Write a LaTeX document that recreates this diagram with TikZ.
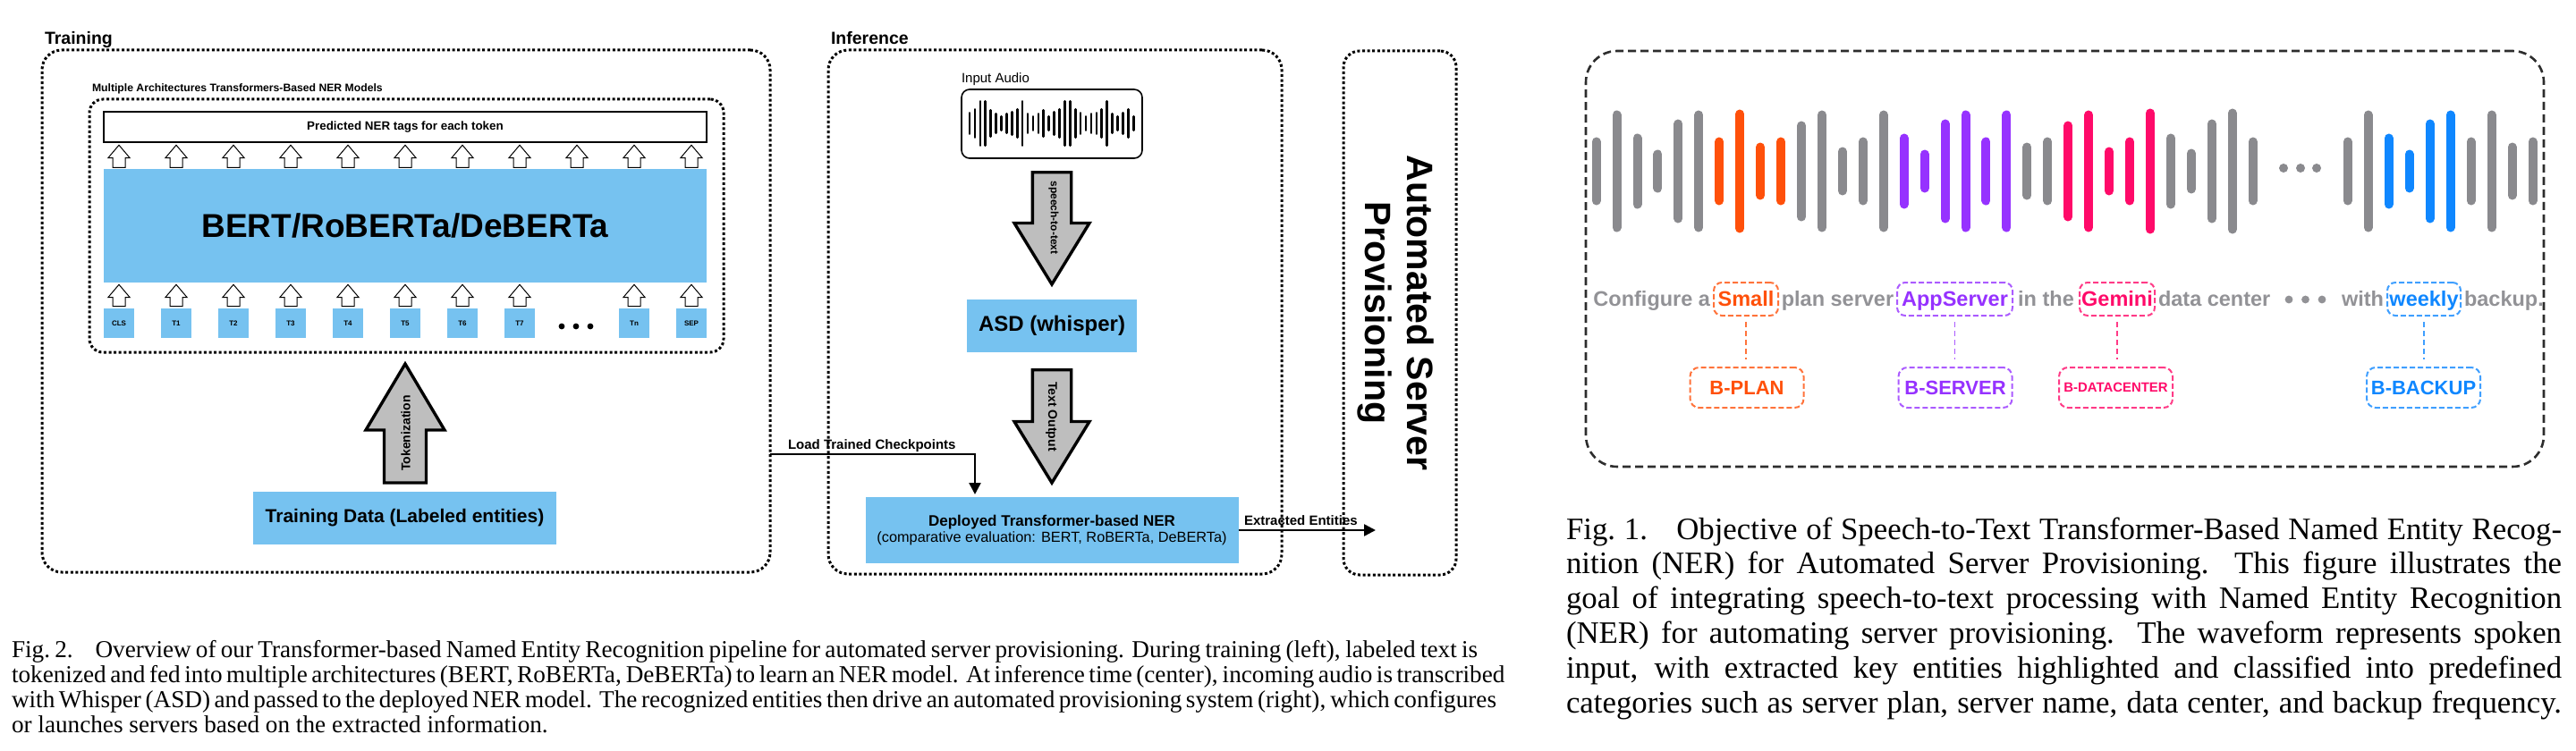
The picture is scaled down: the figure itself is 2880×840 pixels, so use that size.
\documentclass[tikz,border=0pt]{standalone}
\usepackage{fontspec}
\setmainfont{Liberation Sans}
\newfontfamily\capfont{Liberation Serif}
\usetikzlibrary{arrows.meta,calc}
\definecolor{nerblue}{RGB}{118,194,240}
\definecolor{arrgray}{RGB}{190,190,190}
\definecolor{wgray}{RGB}{138,138,142}
\definecolor{tgray}{RGB}{146,146,150}
\definecolor{eorange}{RGB}{255,80,10}
\definecolor{epurple}{RGB}{150,50,255}
\definecolor{epink}{RGB}{255,10,105}
\definecolor{eblue}{RGB}{15,135,255}
\definecolor{pframe}{RGB}{45,45,45}
\newcommand\fsz[1]{\fontsize{#1}{#1}\selectfont}
\newcommand\hollowup[3]{%
  \draw[hollow] (#1,#2) -- (#1+12.2,#2+14.4) -- (#1+7,#2+14.4) -- (#1+7,#3) -- (#1-7,#3) -- (#1-7,#2+14.4) -- (#1-12.2,#2+14.4) -- cycle;}
\begin{document}
\begin{tikzpicture}[x=1pt,y=-1pt,
  dotbox/.style={draw=black, line width=3pt, dash pattern=on 3pt off 2.6pt, rounded corners=#1, inner sep=0pt, outer sep=0pt},
  dotbox/.default=20pt,
  bluebox/.style={fill=nerblue, inner sep=0pt, outer sep=0pt},
  tok/.style={bluebox, minimum width=34pt, minimum height=33pt, font=\fsz{8}\bfseries},
  hollow/.style={draw=black, fill=white, line width=1pt, line join=miter},
  bigarrow/.style={draw=black, fill=arrgray, line width=3.4pt, line join=miter},
  conn/.style={draw=black, line width=2.5pt, -{Triangle[length=13pt,width=13pt]}},
  plain/.style={inner sep=0pt, outer sep=0pt},
  ttl/.style={plain, font=\fsz{19.5}\bfseries},
  ent/.style={draw=#1!80!white, text=#1, dash pattern=on 6pt off 3pt, line width=2pt, rounded corners=9pt, minimum height=37pt, inner sep=0pt, text height=20pt, text depth=5pt, font=\fsz{23.5}\bfseries},
  lab/.style={draw=#1!80!white, text=#1, dash pattern=on 6pt off 3pt, line width=2pt, rounded corners=10pt, minimum width=127pt, minimum height=45pt, inner sep=0pt, font=\fsz{22}\bfseries},
  conndash/.style={draw=#1!80!white, line width=1.8pt, dash pattern=on 6pt off 4pt, shorten <=6pt, shorten >=8pt},
  sent/.style={plain, text=tgray, font=\fsz{23.5}\bfseries},
  wbar/.style={line width=10pt, line cap=round},
  abar/.style={draw=black, line width=2.6pt, line cap=round}
]
\useasboundingbox (0,0) rectangle (2880,840);
\fill[white] (0,0) rectangle (2880,840);

% ================= TRAINING =================
\node[dotbox=22pt, minimum width=814pt, minimum height=584pt] (train) at (454,348) {};
\node[ttl, anchor=base west] (trainlbl) at (50,49.5) {Training};
\node[dotbox=15pt, minimum width=709pt, minimum height=283pt] (multi) at (454.5,252.5) {};
\node[plain, anchor=base west, font=\fsz{12.2}\bfseries] (multilbl) at (103,102.7) {Multiple Architectures Transformers-Based NER Models};
\node[draw=black, line width=1.3pt, inner sep=0pt, minimum width=674pt, minimum height=34pt, font=\fsz{13.4}\bfseries] (pred) at (453,142) {Predicted NER tags for each token};
\node[bluebox, minimum width=674pt, minimum height=127pt, font=\fsz{37}\bfseries] (bert) at (453,252.5) {BERT/RoBERTa/DeBERTa};
\foreach \k/\t in {0/CLS,1/T1,2/T2,3/T3,4/T4,5/T5,6/T6,7/T7,9/Tn,10/SEP}
  {\node[tok] (tok\k) at (133+64*\k,361.5) {\t};}
\foreach \d in {628,644,660} {\fill[black] (\d,365) circle (3.4pt);}
\foreach \k in {0,...,10} {\hollowup{133+64*\k}{162.3}{187.3}}
\foreach \k in {0,...,7,9,10} {\hollowup{133+64*\k}{318.3}{342.7}}
\node[bluebox, minimum width=339pt, minimum height=59pt, font=\fsz{21}\bfseries] (tdata) at (452.5,579.5) {Training Data (Labeled entities)};
\draw[bigarrow] (453,407) -- (497,481) -- (476.5,481) -- (476.5,540) -- (429.5,540) -- (429.5,481) -- (409,481) -- cycle;
\node[plain, rotate=90, font=\fsz{14}\bfseries] (toklbl) at (453.5,484.5) {Tokenization};

% ================= INFERENCE =================
\node[dotbox=22pt, minimum width=507pt, minimum height=586pt] (inf) at (1179.5,349) {};
\node[ttl, anchor=base west] (inflbl) at (929,49.3) {Inference};
\node[plain, anchor=base west, font=\fsz{15}] (audiolbl) at (1075,92.7) {Input Audio};
\node[draw=black, line width=1.6pt, rounded corners=9pt, minimum width=202pt, minimum height=77pt, inner sep=0pt] (audio) at (1176,138.5) {};
\foreach \h [count=\i from 0] in {13,17,26,26,16,12,9,12,14,17,26,12,9,12,16,9,14,17,26,26,17,13,9,12,13,17,26,12,9,13,17,9}
  {\draw[abar] (1084+5.91*\i,138-\h+1.3) -- (1084+5.91*\i,138+\h-1.3);}
\draw[bigarrow] (1154.3,192.7) -- (1197.7,192.7) -- (1197.7,249.5) -- (1218,249.5) -- (1176,318) -- (1134,249.5) -- (1154.3,249.5) -- cycle;
\node[plain, rotate=-90, font=\fsz{12}\bfseries] (s2t) at (1178,243.5) {speech-to-text};
\node[bluebox, minimum width=190pt, minimum height=59pt, font=\fsz{24}\bfseries] (asd) at (1176,364.5) {ASD (whisper)};
\draw[bigarrow] (1154.3,413.7) -- (1197.7,413.7) -- (1197.7,471.5) -- (1218,471.5) -- (1176,540) -- (1134,471.5) -- (1154.3,471.5) -- cycle;
\node[plain, rotate=-90, font=\fsz{14}\bfseries] (txtout) at (1175.5,466) {Text Output};
\node[bluebox, minimum width=417pt, minimum height=74pt, align=center, font=\fontsize{16.3}{18}\selectfont] (dep) at (1176,593) {{\fontsize{17}{18}\selectfont\bfseries Deployed Transformer-based NER}\\(comparative evaluation: BERT, RoBERTa, DeBERTa)};

% ================= PROVISIONING =================
\node[dotbox=18pt, minimum width=126pt, minimum height=586pt] (asp) at (1565,350) {};
\node[plain, rotate=-90, align=center, font=\fontsize{41}{47}\selectfont\bfseries] (asptxt) at (1560,350) {Automated Server\\Provisioning};

% connectors
\draw[conn] ($(train.east)+(0,160)$) -| ($(dep.north west)+(122.5,-3)$);
\node[plain, anchor=base west, font=\fsz{15}\bfseries] (loadlbl) at (881,502.7) {Load Trained Checkpoints};
\coordinate (entend) at ($(asp.west |- dep.east)+(36,0)$);
\draw[conn] (dep.east) -- (entend);
\node[plain, anchor=base west, font=\fsz{15}\bfseries] (extlbl) at (1391,587.5) {Extracted Entities};

% ================= RIGHT PANEL =================
\node[draw=pframe, line width=2.6pt, dash pattern=on 9pt off 5pt, rounded corners=35pt, minimum width=1071pt, minimum height=465pt, inner sep=0pt, outer sep=0pt] (panel) at (2308.5,289.5) {};
\foreach \h/\c [count=\i from 0] in {38/wgray,68/wgray,42/wgray,24/wgray,58/wgray,68/wgray,38/eorange,69/eorange,32/eorange,38/eorange,56/wgray,68/wgray,27/wgray,38/wgray,68/wgray,42/epurple,24/epurple,58/epurple,68/epurple,38/epurple,68/epurple,32/wgray,38/wgray,56/epink,68/epink,27/epink,38/epink,70/epink,42/wgray,25/wgray,58/wgray,70/wgray,38/wgray}
  {\draw[wbar, draw=\c] (1784.6+22.94*\i,191.5-\h+5) -- (1784.6+22.94*\i,191.5+\h-5);}
\foreach \d in {2553,2572,2590} {\fill[wgray] (\d,188) circle (5pt);}
\foreach \h/\c [count=\i from 0] in {38/wgray,68/wgray,42/eblue,24/eblue,58/eblue,68/eblue,38/wgray,68/wgray,32/wgray,38/wgray}
  {\draw[wbar, draw=\c] (2624.6+23*\i,191.5-\h+5) -- (2624.6+23*\i,191.5+\h-5);}

% sentence
\node[ent=eorange, minimum width=72pt] (esmall) at (1952,334.5) {Small};
\node[ent=epurple, minimum width=129pt] (eapp) at (2185.5,334.5) {AppServer};
\node[ent=epink, minimum width=84pt] (egem) at (2367,334.5) {Gemini};
\node[ent=eblue, minimum width=82pt] (eweek) at (2710,334.5) {weekly};
\node[sent, anchor=base east] (w1) at (1912,342) {Configure a};
\node[sent, anchor=base] (w2) at (2054.5,342) {plan server};
\node[sent, anchor=base] (w3) at (2287.5,342) {in the};
\node[sent, anchor=base west] (w4) at (2413,342) {data center};
\foreach \d in {2559,2577.5,2596} {\fill[tgray] (\d,335) circle (4.4pt);}
\node[sent, anchor=base east] (w5) at (2665,342) {with};
\node[sent, anchor=base west] (w6) at (2755,342) {backup.};

% labels
\node[lab=eorange] (lplan) at (1953,433.5) {B-PLAN};
\node[lab=epurple] (lserver) at (2186,433.5) {B-SERVER};
\node[lab=epink, font=\fsz{14.9}\bfseries] (ldc) at (2365.5,433.5) {B-DATACENTER};
\node[lab=eblue] (lbackup) at (2709.5,433.5) {B-BACKUP};
\draw[conndash=eorange] (esmall.south) -- (esmall.south |- lplan.north);
\draw[conndash=epurple] (eapp.south) -- (eapp.south |- lserver.north);
\draw[conndash=epink] (egem.south) -- (egem.south |- ldc.north);
\draw[conndash=eblue] (eweek.south) -- (eweek.south |- lbackup.north);

% ================= CAPTIONS =================
\node[plain, anchor=base west] (cap2) at (13,735) {\parbox[t]{1639pt}{\capfont\fontsize{27.2}{28.3}\selectfont
\makebox[\linewidth][s]{Fig.~2.\hspace{0.6em} Overview of our Transformer-based Named Entity Recognition pipeline for automated server provisioning. During training (left), labeled text is}\par
\makebox[\linewidth][s]{tokenized and fed into multiple architectures (BERT, RoBERTa, DeBERTa) to learn an NER model. At inference time (center), incoming audio is transcribed}\par
\makebox[\linewidth][s]{with Whisper (ASD) and passed to the deployed NER model. The recognized entities then drive an automated provisioning system (right), which configures}\par
or launches servers based on the extracted information.}};
\node[plain, anchor=base west] (cap1) at (1751,603) {\parbox[t]{1113pt}{\capfont\fontsize{34.8}{38.8}\selectfont
\makebox[\linewidth][s]{Fig.~1.\hspace{0.5em} Objective of Speech-to-Text Transformer-Based Named Entity Recog-}\par
\makebox[\linewidth][s]{nition (NER) for Automated Server Provisioning. This figure illustrates the}\par
\makebox[\linewidth][s]{goal of integrating speech-to-text processing with Named Entity Recognition}\par
\makebox[\linewidth][s]{(NER) for automating server provisioning. The waveform represents spoken}\par
\makebox[\linewidth][s]{input, with extracted key entities highlighted and classified into predefined}\par
\makebox[\linewidth][s]{categories such as server plan, server name, data center, and backup frequency.}}};
\end{tikzpicture}
\end{document}
